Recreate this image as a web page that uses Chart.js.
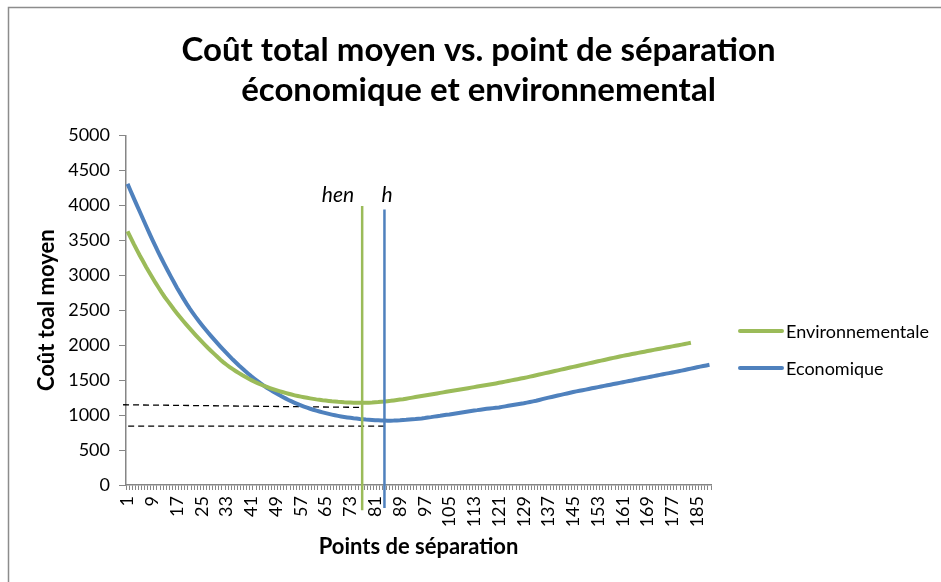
<!DOCTYPE html>
<html>
<head>
<meta charset="utf-8">
<script src="https://cdn.jsdelivr.net/npm/chart.js@4"></script>
<style>
  html, body { margin: 0; padding: 0; background: #fff; }
  #wrap { width: 941px; height: 582px; }
</style>
</head>
<body>
<div id="wrap"><canvas id="myChart"></canvas></div>
<script>
// points de séparation 1..189
const points = Array.from({ length: 189 }, (_, i) => i + 1);
const tickLabels = [1, 9, 17, 25, 33, 41, 49, 57, 65, 73, 81, 89, 97, 105, 113, 121, 129, 137, 145, 153, 161, 169, 177, 185];

const economique = [
  4310, 4205, 4105, 4005, 3905, 3805, 3705, 3607, 3510, 3417,
  3325, 3237, 3150, 3065, 2981, 2900, 2820, 2745, 2670, 2598,
  2530, 2467, 2405, 2346, 2290, 2236, 2182, 2130, 2080, 2030,
  1980, 1932, 1885, 1840, 1795, 1752, 1710, 1670, 1630, 1592,
  1555, 1520, 1486, 1453, 1422, 1392, 1364, 1337, 1311, 1286,
  1262, 1239, 1217, 1196, 1176, 1157, 1139, 1122, 1106, 1091,
  1077, 1064, 1051, 1039, 1028, 1017, 1007, 998, 989, 981,
  974, 967, 961, 955, 950, 945, 941, 937, 934, 931,
  927, 925, 923, 922, 921, 921, 922, 924, 926, 929,
  932, 936, 940, 944, 949, 953, 958, 965, 971, 978,
  985, 991, 998, 1004, 1010, 1017, 1024, 1031, 1038, 1045,
  1052, 1058, 1065, 1071, 1078, 1084, 1090, 1095, 1100, 1105,
  1110, 1118, 1125, 1133, 1140, 1148, 1155, 1163, 1170, 1179,
  1188, 1196, 1205, 1216, 1228, 1239, 1250, 1260, 1270, 1280,
  1290, 1300, 1310, 1320, 1330, 1339, 1348, 1356, 1365, 1374,
  1383, 1391, 1400, 1409, 1418, 1426, 1435, 1444, 1453, 1461,
  1470, 1479, 1488, 1496, 1505, 1514, 1523, 1531, 1540, 1549,
  1558, 1566, 1575, 1584, 1593, 1601, 1610, 1619, 1628, 1636,
  1645, 1655, 1665, 1675, 1685, 1694, 1703, 1711, 1720
];

const environnementale = [
  3629, 3540, 3450, 3365, 3280, 3200, 3120, 3045, 2970, 2895,
  2825, 2755, 2690, 2630, 2572, 2512, 2455, 2400, 2347, 2295,
  2245, 2195, 2145, 2097, 2050, 2005, 1960, 1918, 1876, 1834,
  1792, 1755, 1720, 1688, 1657, 1628, 1600, 1573, 1548, 1524,
  1500, 1478, 1457, 1438, 1420, 1403, 1387, 1372, 1357, 1343,
  1330, 1317, 1305, 1294, 1283, 1273, 1264, 1255, 1247, 1239,
  1232, 1225, 1219, 1213, 1208, 1203, 1198, 1194, 1190, 1187,
  1184, 1182, 1180, 1178, 1177, 1176, 1176, 1177, 1178, 1180,
  1183, 1186, 1190, 1194, 1199, 1204, 1210, 1216, 1222, 1228,
  1235, 1243, 1250, 1258, 1265, 1273, 1280, 1288, 1295, 1303,
  1310, 1318, 1325, 1333, 1340, 1348, 1355, 1363, 1370, 1378,
  1385, 1393, 1400, 1408, 1415, 1423, 1430, 1438, 1445, 1453,
  1462, 1470, 1479, 1488, 1497, 1505, 1514, 1523, 1531, 1540,
  1550, 1560, 1570, 1580, 1590, 1600, 1610, 1620, 1630, 1640,
  1650, 1660, 1670, 1680, 1690, 1700, 1710, 1720, 1730, 1740,
  1750, 1760, 1770, 1779, 1789, 1799, 1809, 1819, 1828, 1838,
  1847, 1855, 1864, 1873, 1881, 1890, 1899, 1907, 1916, 1925,
  1933, 1941, 1950, 1958, 1966, 1975, 1983, 1991, 2000, 2008,
  2017, 2026, 2035
];

// repères verticaux (hen, h) et niveaux en pointillés
const henX = [76.8, 76.8];
const henY = [3990, -360];
const hX = [84, 84];
const hY = [3940, -330];
const envLevelX = [-0.45, 76.8];
const envLevelY = [1148, 1110];
const ecoLevelX = [1.2, 84];
const ecoLevelY = [843, 843];

const GREEN = '#9BBB59';
const BLUE = '#4F81BD';
const AXIS = '#868686';
const FONT = 'Lato';

const xy = (xs, ys) => ys.map((y, i) => ({ x: xs[i], y: y }));

const frame = {
  id: 'frame',
  beforeDraw(chart) {
    const c = chart.ctx;
    c.save();
    c.strokeStyle = '#8c8c8c';
    c.lineWidth = 1.5;
    c.strokeRect(8.5, 7.5, 1000, 1000);
    c.restore();
  }
};

const sideLegend = {
  id: 'sideLegend',
  afterDraw(chart) {
    const c = chart.ctx;
    const left = chart.chartArea.right + 29;
    c.save();
    c.font = '18px ' + FONT;
    c.textBaseline = 'middle';
    c.fillStyle = '#000';
    chart.data.datasets.filter(d => d.inLegend).forEach((d, i) => {
      const y = 331 + i * 37;
      c.strokeStyle = d.borderColor;
      c.lineWidth = 4;
      c.lineCap = 'round';
      c.beginPath();
      c.moveTo(left, y);
      c.lineTo(left + 42, y);
      c.stroke();
      c.fillText(d.label, left + 46, y + 1);
    });
    c.restore();
  }
};

const markerLabels = {
  id: 'markerLabels',
  afterDraw(chart) {
    const c = chart.ctx;
    const sx = chart.scales.x, sy = chart.scales.y;
    const yText = sy.getPixelForValue(4050);
    c.save();
    c.font = 'italic 21px ' + FONT;
    c.fillStyle = '#000';
    c.textBaseline = 'alphabetic';
    c.textAlign = 'right';
    c.fillText('hen', sx.getPixelForValue(henX[0]) - 8, yText);
    c.textAlign = 'left';
    c.fillText('h', sx.getPixelForValue(hX[0]) - 3, yText);
    c.restore();
  }
};

const ctx = document.getElementById('myChart');

new Chart(ctx, {
  type: 'line',
  data: {
    datasets: [
      { label: 'hen', data: xy(henX, henY), borderColor: GREEN, borderWidth: 2.5, pointRadius: 0, clip: false, order: 0 },
      { label: 'h', data: xy(hX, hY), borderColor: BLUE, borderWidth: 2.5, pointRadius: 0, clip: false, order: 0 },
      { label: 'Environnementale', inLegend: true, data: xy(points, environnementale), borderColor: GREEN, borderWidth: 4, pointRadius: 0, order: 1 },
      { label: 'Economique', inLegend: true, data: xy(points, economique), borderColor: BLUE, borderWidth: 4, pointRadius: 0, order: 1 },
      { label: 'niveau env', data: xy(envLevelX, envLevelY), borderColor: '#000', borderWidth: 1.3, borderDash: [6, 4], pointRadius: 0, clip: false, order: 2 },
      { label: 'niveau eco', data: xy(ecoLevelX, ecoLevelY), borderColor: '#000', borderWidth: 1.3, borderDash: [6, 4], pointRadius: 0, clip: false, order: 2 }
    ]
  },
  options: {
    responsive: true,
    maintainAspectRatio: false,
    animation: false,
    layout: { padding: { left: 16, right: 0, top: 0, bottom: 16 } },
    plugins: {
      legend: { display: false },
      tooltip: { enabled: false },
      title: {
        display: true,
        text: ['Coût total moyen vs. point de séparation', 'économique et environnemental'],
        color: '#000',
        font: { family: FONT, size: 33, weight: 'bold', lineHeight: 1.22 },
        padding: { top: 30, bottom: 25 }
      }
    },
    scales: {
      x: {
        type: 'linear',
        min: 0.5,
        max: 189.5,
        afterBuildTicks: s => { s.ticks = points.map(v => ({ value: v })); },
        afterFit: s => { s.height = 81; },
        grid: { drawOnChartArea: false, offset: true, tickLength: 5, color: AXIS },
        border: { color: AXIS, width: 1.5 },
        ticks: {
          autoSkip: false,
          minRotation: 90,
          maxRotation: 90,
          padding: 6,
          color: '#000',
          font: { family: FONT, size: 18 },
          callback: v => tickLabels.includes(v) ? String(v) : ''
        },
        title: {
          display: true,
          text: 'Points de séparation',
          color: '#000',
          font: { family: FONT, size: 22, weight: 'bold' },
          padding: { top: 0, bottom: 6 }
        }
      },
      y: {
        min: 0,
        max: 5000,
        afterFit: s => { s.width = 110; },
        grid: { drawOnChartArea: false, tickLength: 7, color: AXIS },
        border: { color: AXIS, width: 1.5 },
        ticks: { stepSize: 500, padding: 9, color: '#000', font: { family: FONT, size: 18 }, callback: v => String(v) },
        title: {
          display: true,
          text: 'Coût toal moyen',
          color: '#000',
          font: { family: FONT, size: 22, weight: 'bold' },
          padding: { top: 18, bottom: 0 }
        }
      },
      y2: {
        position: 'right',
        afterFit: s => { s.width = 230; },
        grid: { display: false },
        border: { display: false },
        ticks: { display: false }
      }
    }
  },
  plugins: [frame, sideLegend, markerLabels]
});
</script>
</body>
</html>
